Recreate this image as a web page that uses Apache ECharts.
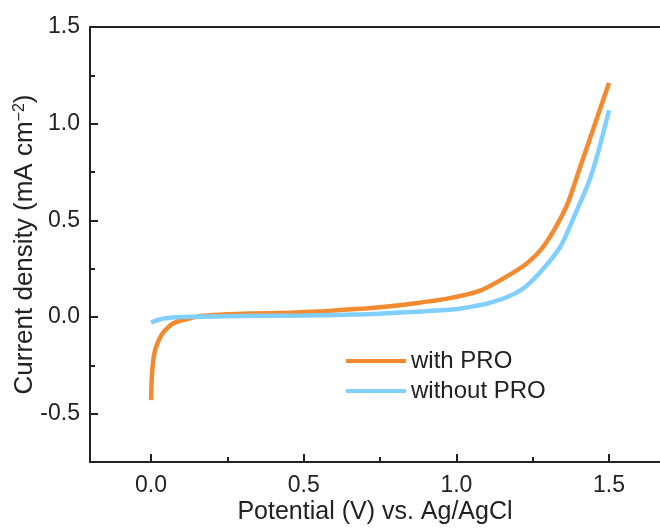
<!DOCTYPE html>
<html>
<head>
<meta charset="utf-8">
<script src="https://cdn.jsdelivr.net/npm/echarts@6/dist/echarts.min.js"></script>
<style>
  html, body { margin: 0; padding: 0; background: #fff; }
  #chart { width: 660px; height: 528px; }
</style>
</head>
<body>
<div id="chart"></div>
<script>
// potential (V) / current density (mA cm-2)
var withX = [0.0, 0.002, 0.006, 0.012, 0.02, 0.03, 0.04, 0.055, 0.07, 0.09, 0.115, 0.14, 0.17, 0.25, 0.33, 0.45, 0.55, 0.62, 0.7, 0.75, 0.86, 0.97, 1.08, 1.16, 1.23, 1.29, 1.36, 1.4, 1.45, 1.5];
var withY = [-0.43, -0.33, -0.24, -0.18, -0.14, -0.105, -0.08, -0.055, -0.035, -0.022, -0.012, -0.002, 0.006, 0.014, 0.018, 0.022, 0.028, 0.036, 0.044, 0.05, 0.07, 0.095, 0.138, 0.205, 0.276, 0.375, 0.57, 0.75, 0.98, 1.21];
var withoutX = [0.0, 0.01, 0.025, 0.045, 0.07, 0.1, 0.2, 0.3, 0.5, 0.7, 0.8, 0.9, 1.01, 1.12, 1.21, 1.27, 1.34, 1.39, 1.436, 1.469, 1.5];
var withoutY = [-0.03, -0.022, -0.014, -0.007, -0.002, 0.0, 0.003, 0.005, 0.008, 0.014, 0.022, 0.03, 0.043, 0.078, 0.138, 0.224, 0.362, 0.535, 0.707, 0.879, 1.069];
var seriesNames = ['with PRO', 'without PRO'];
var xMajor = [0.0, 0.5, 1.0, 1.5];
var xMinor = [0.25, 0.75, 1.25];
var yMajor = [-0.5, 0.0, 0.5, 1.0, 1.5];
var yMinor = [-0.25, 0.25, 0.75, 1.25];

function pairs(xs, ys) {
  var res = [];
  for (var i = 0; i < xs.length; i++) {
    res.push([xs[i], ys[i]]);
  }
  return res;
}

var font = 'Liberation Sans, Arial, sans-serif';
var ink = '#222';
var xMin = -0.2, xMax = 1.667;   // right side of the frame is cut off in the figure
var yMin = -0.75, yMax = 1.5;

var myChart = echarts.init(document.getElementById('chart'), null, { renderer: 'canvas' });

option = {
  backgroundColor: '#fff',
  animation: false,
  grid: { left: 90, top: 27, right: 0, bottom: 66, outerBoundsMode: 'none' },
  legend: {
    data: seriesNames,
    orient: 'vertical',
    left: 346, top: 349, padding: 0,
    icon: 'rect',
    itemWidth: 60, itemHeight: 4, itemGap: 6,
    textStyle: { fontFamily: font, fontSize: 24, color: ink }
  },
  xAxis: [{
    type: 'value', min: xMin, max: xMax,
    name: 'Potential (V) vs. Ag/AgCl',
    nameLocation: 'middle', nameGap: 38, nameMoveOverlap: false,
    nameTextStyle: { fontFamily: font, fontSize: 25, color: ink },
    axisLine: { onZero: false, lineStyle: { color: ink, width: 2 } },
    axisTick: { inside: true, length: 8, customValues: xMajor, lineStyle: { color: ink, width: 2 } },
    axisLabel: {
      customValues: xMajor, margin: 12,
      fontFamily: font, fontSize: 23, color: ink,
      formatter: function (v) { return v.toFixed(1); }
    },
    splitLine: { show: false }
  }, {
    type: 'value', min: xMin, max: xMax, position: 'bottom',
    axisLine: { show: false, onZero: false },
    axisTick: { inside: true, length: 5, customValues: xMinor, lineStyle: { color: ink, width: 2 } },
    axisLabel: { show: false },
    splitLine: { show: false }
  }, {
    // top frame line
    type: 'value', min: xMin, max: xMax, position: 'top',
    axisLine: { show: true, onZero: false, lineStyle: { color: ink, width: 2 } },
    axisTick: { show: false },
    axisLabel: { show: false },
    splitLine: { show: false }
  }],
  yAxis: [{
    type: 'value', min: yMin, max: yMax,
    name: '{a|Current density (mA cm}{s|−2}{a|)}',
    nameLocation: 'middle', nameGap: 52, nameRotate: 90, nameMoveOverlap: false,
    nameTextStyle: {
      rich: {
        a: { fontFamily: font, fontSize: 26, color: ink },
        s: { fontFamily: font, fontSize: 16, color: ink, verticalAlign: 'top', lineHeight: 16 }
      }
    },
    axisLine: { show: true, onZero: false, lineStyle: { color: ink, width: 2 } },
    axisTick: { show: true, inside: true, length: 8, customValues: yMajor, lineStyle: { color: ink, width: 2 } },
    axisLabel: {
      customValues: yMajor, margin: 10,
      fontFamily: font, fontSize: 23, color: ink,
      formatter: function (v) { return v.toFixed(1); }
    },
    splitLine: { show: false }
  }, {
    type: 'value', min: yMin, max: yMax, position: 'left',
    axisLine: { show: false, onZero: false },
    axisTick: { show: true, inside: true, length: 5, customValues: yMinor, lineStyle: { color: ink, width: 2 } },
    axisLabel: { show: false },
    splitLine: { show: false }
  }],
  series: [{
    name: seriesNames[0],
    type: 'line',
    data: pairs(withX, withY),
    smooth: 0.25,
    symbol: 'none',
    z: 3,
    lineStyle: { color: '#F28A30', width: 4.5 },
    itemStyle: { color: '#F28A30' }
  }, {
    name: seriesNames[1],
    type: 'line',
    data: pairs(withoutX, withoutY),
    smooth: 0.25,
    symbol: 'none',
    z: 4,
    lineStyle: { color: '#80CFFF', width: 4.5 },
    itemStyle: { color: '#80CFFF' }
  }]
};
myChart.setOption(option);
</script>
</body>
</html>
